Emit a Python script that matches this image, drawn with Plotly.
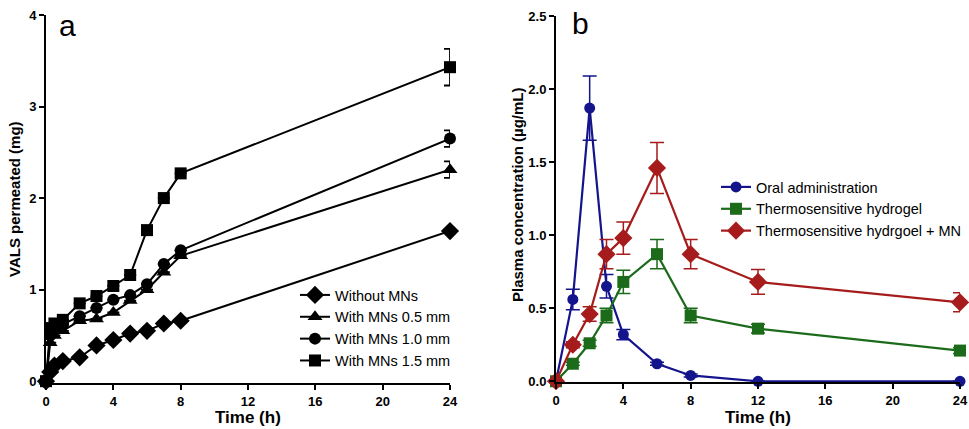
import plotly.graph_objects as go

# ---------------- Panel a data ----------------
time_a = [0, 0.25, 0.5, 1, 2, 3, 4, 5, 6, 7, 8, 24]
without_mns = [0, 0.10, 0.17, 0.22, 0.26, 0.39, 0.45, 0.52, 0.55, 0.63, 0.66, 1.64]
mns_05 = [0, 0.42, 0.50, 0.55, 0.66, 0.68, 0.75, 0.88, 1.00, 1.19, 1.37, 2.31]
mns_10 = [0, 0.50, 0.56, 0.62, 0.71, 0.80, 0.89, 0.94, 1.06, 1.28, 1.43, 2.65]
mns_15 = [0, 0.58, 0.63, 0.67, 0.85, 0.93, 1.04, 1.16, 1.65, 2.00, 2.27, 3.43]
err_a_without = [0, 0, 0, 0, 0, 0, 0, 0, 0, 0, 0, 0.02]
err_a_05 = [0, 0, 0, 0, 0, 0, 0, 0, 0, 0, 0, 0.09]
err_a_10 = [0, 0, 0, 0, 0, 0, 0, 0, 0, 0, 0, 0.09]
err_a_15 = [0, 0, 0, 0, 0, 0, 0, 0, 0, 0, 0, 0.20]

# ---------------- Panel b data ----------------
time_b = [0, 1, 2, 3, 4, 6, 8, 12, 24]
oral = [0, 0.56, 1.87, 0.65, 0.32, 0.12, 0.04, 0.0, 0.0]
oral_err = [0, 0.07, 0.22, 0.08, 0.035, 0.01, 0.01, 0, 0]
hydrogel = [0, 0.12, 0.26, 0.45, 0.68, 0.87, 0.45, 0.36, 0.21]
hydrogel_err = [0, 0.01, 0.02, 0.05, 0.08, 0.10, 0.05, 0.03, 0.02]
hydrogel_mn = [0, 0.25, 0.46, 0.87, 0.98, 1.46, 0.87, 0.68, 0.54]
hydrogel_mn_err = [0, 0.02, 0.05, 0.10, 0.11, 0.175, 0.10, 0.085, 0.065]

xticks = [0, 4, 8, 12, 16, 20, 24]
W, H = 969, 429
FONT = "Arial, Liberation Sans, sans-serif"

fig = go.Figure()

def add_a(name, y, err, symbol, size):
    fig.add_trace(go.Scatter(
        x=time_a, y=y, name=name, mode="lines+markers",
        line=dict(color="black", width=2),
        marker=dict(symbol=symbol, size=size, color="black"),
        error_y=dict(type="data", array=err, color="black", thickness=1.8, width=6),
        xaxis="x", yaxis="y", legend="legend", cliponaxis=False))

add_a("Without MNs", without_mns, err_a_without, "diamond", 14)
add_a("With MNs 0.5 mm", mns_05, err_a_05, "triangle-up", 13)
add_a("With MNs 1.0 mm", mns_10, err_a_10, "circle", 12)
add_a("With MNs 1.5 mm", mns_15, err_a_15, "square", 12)

def add_b(name, y, err, symbol, size, color):
    fig.add_trace(go.Scatter(
        x=time_b, y=y, name=name, mode="lines+markers",
        line=dict(color=color, width=2.2),
        marker=dict(symbol=symbol, size=size, color=color),
        error_y=dict(type="data", array=err, color=color, thickness=1.5, width=7),
        xaxis="x2", yaxis="y2", legend="legend2", cliponaxis=False))

add_b("Oral administration", oral, oral_err, "circle", 11, "#14148c")
add_b("Thermosensitive hydrogel", hydrogel, hydrogel_err, "square", 12, "#1b6b1b")
add_b("Thermosensitive hydrgoel + MN", hydrogel_mn, hydrogel_mn_err, "diamond", 14, "#a61b1b")

axis_common = dict(showline=True, linewidth=2, linecolor="black", ticks="outside",
                   ticklen=5, tickwidth=2, tickcolor="black", showgrid=False,
                   zeroline=False, automargin=False,
                   tickfont=dict(family=FONT, size=13, color="black", weight="bold"))

fig.update_layout(
    width=W, height=H, plot_bgcolor="white", paper_bgcolor="white",
    margin=dict(l=0, r=0, t=0, b=0),
    font=dict(family=FONT, color="black"),
    xaxis=dict(domain=[46/W, 450/W], range=[0, 24], tickvals=xticks,
               anchor="y", **axis_common),
    yaxis=dict(domain=[1-383/H, 1-15/H], range=[-0.02, 4], tickvals=[0, 1, 2, 3, 4],
               anchor="x", **axis_common),
    xaxis2=dict(domain=[556/W, 960/W], range=[0, 24], tickvals=xticks,
                anchor="y2", **axis_common),
    yaxis2=dict(domain=[1-382/H, 1-16/H], range=[-0.005, 2.5],
                tickvals=[0, 0.5, 1.0, 1.5, 2.0, 2.5], ticktext=["0.0", "0.5", "1.0", "1.5", "2.0", "2.5"],
                anchor="x2", **axis_common),
    legend=dict(x=295/W, y=1-279/H, xanchor="left", yanchor="top",
                bgcolor="rgba(0,0,0,0)", font=dict(family=FONT, size=14.5, color="black"),
                tracegroupgap=0),
    legend2=dict(x=716/W, y=1-171/H, xanchor="left", yanchor="top",
                 bgcolor="rgba(0,0,0,0)", font=dict(family=FONT, size=14.5, color="black"),
                 tracegroupgap=0),
    showlegend=True,
)

annotations = [
    dict(text="a", x=67/W, y=1-26/H, font=dict(size=30)),
    dict(text="b", x=580/W, y=1-24/H, font=dict(size=30)),
    dict(text="<b>Time (h)</b>", x=248/W, y=1-417/H, font=dict(size=17)),
    dict(text="<b>Time (h)</b>", x=758/W, y=1-417/H, font=dict(size=17)),
    dict(text="<b>VALS permeated (mg)</b>", x=15/W, y=1-199/H, textangle=-90, font=dict(size=15)),
    dict(text="<b>Plasma concentration (\u00b5g/mL)</b>", x=517/W, y=1-195/H, textangle=-90, font=dict(size=15)),
]
for a in annotations:
    a.update(xref="paper", yref="paper", showarrow=False, xanchor="center", yanchor="middle")
    a["font"].update(family=FONT, color="black")
fig.update_layout(annotations=annotations)

fig.write_html("out.html",
               post_script="document.body.style.margin='0';document.body.style.overflow='hidden';",
               config={"displayModeBar": False})
